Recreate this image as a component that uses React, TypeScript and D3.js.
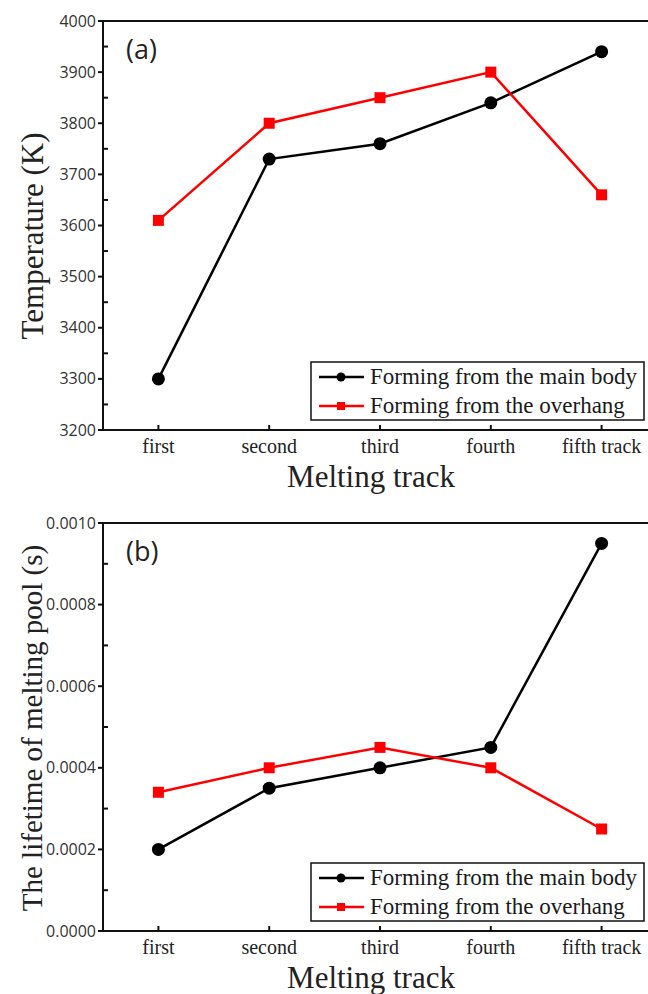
import * as d3 from 'd3';

const tracks = ['first', 'second', 'third', 'fourth', 'fifth track'];
const seriesNames = ['Forming from the main body', 'Forming from the overhang'];

const tempMainBody = [3300, 3730, 3760, 3840, 3940];
const tempOverhang = [3610, 3800, 3850, 3900, 3660];

const lifeMainBody = [0.0002, 0.00035, 0.0004, 0.00045, 0.00095];
const lifeOverhang = [0.00034, 0.0004, 0.00045, 0.0004, 0.00025];

const SERIF = '"Liberation Serif", "DejaVu Serif", serif';
const SANS = '"Open Sans", "Noto Sans", sans-serif';
const RED = '#ff0000';
const INK = '#111';

interface PanelProps {
  label: string;
  yTitle: string;
  yTitleSize: number;
  yTitleX: number;
  yTitleY: number;
  domain: [number, number];
  majorCount: number;
  minorCount: number;
  fmt: (v: number) => string;
  main: number[];
  over: number[];
  top: number;
  bottom: number;
  legendTop: number;
}

function Panel({ label, yTitle, yTitleSize, yTitleX, yTitleY, domain, majorCount, minorCount, fmt, main, over, top, bottom, legendTop }: PanelProps) {
  const left = 103;
  const right = 657;
  const x = d3.scalePoint<string>().domain(tracks).range([left, right]).padding(0.5);
  const y = d3.scaleLinear().domain(domain).range([bottom, top]);
  const major = y.ticks(majorCount);
  const minor = y.ticks(minorCount).filter((t) => !major.some((m) => Math.abs(m - t) < 1e-12));
  const line = d3
    .line<number>()
    .x((_, i) => x(tracks[i]) ?? 0)
    .y((d) => y(d));

  return (
    <g>
      {/* frame */}
      <line x1={left} x2={right} y1={top} y2={top} stroke={INK} strokeWidth={2} />
      <line x1={left} x2={left} y1={top - 1} y2={bottom + 1} stroke={INK} strokeWidth={2} />
      <line x1={left - 1} x2={right} y1={bottom} y2={bottom} stroke={INK} strokeWidth={2} />

      {/* y ticks: major outward, minor inward */}
      {major.map((t) => (
        <g key={`M${t}`}>
          <line x1={left - 5} x2={left} y1={y(t)} y2={y(t)} stroke={INK} strokeWidth={2} />
          <text x={left - 7} y={y(t)} dy="0.35em" textAnchor="end" fontFamily={SANS} fontSize={16} fill="#333">
            {fmt(t)}
          </text>
        </g>
      ))}
      {minor.map((t) => (
        <line key={`m${t}`} x1={left} x2={left + 5} y1={y(t)} y2={y(t)} stroke={INK} strokeWidth={2} />
      ))}

      {/* x ticks */}
      {tracks.map((c) => (
        <g key={c}>
          <line x1={x(c)} x2={x(c)} y1={bottom} y2={bottom - 5} stroke={INK} strokeWidth={2} />
          <text x={x(c)} y={bottom + 23} textAnchor="middle" fontFamily={SERIF} fontSize={20} fill="#222">
            {c}
          </text>
        </g>
      ))}

      {/* titles */}
      <text
        transform={`translate(${yTitleX},${yTitleY}) rotate(-90)`}
        textAnchor="middle"
        fontFamily={SERIF}
        fontSize={yTitleSize}
        fill="#222"
      >
        {yTitle}
      </text>
      <text x={371} y={bottom + 57} textAnchor="middle" fontFamily={SERIF} fontSize={31} fill="#222">
        Melting track
      </text>
      <text x={126} y={top + 38} fontFamily={SANS} fontSize={27} fill="#222">
        {label}
      </text>

      {/* series */}
      <path d={line(main) ?? undefined} fill="none" stroke="#000" strokeWidth={2.5} />
      <path d={line(over) ?? undefined} fill="none" stroke={RED} strokeWidth={2.5} />
      {main.map((v, i) => (
        <circle key={`c${i}`} cx={x(tracks[i])} cy={y(v)} r={6.5} fill="#000" />
      ))}
      {over.map((v, i) => (
        <rect key={`s${i}`} x={(x(tracks[i]) ?? 0) - 5.5} y={y(v) - 5.5} width={11} height={11} fill={RED} />
      ))}

      {/* legend */}
      <rect x={311} y={legendTop} width={333} height={58} fill="#fff" stroke={INK} strokeWidth={1.5} />
      {seriesNames.map((name, i) => {
        const cy = legendTop + 15 + i * 29;
        const color = i === 0 ? '#000' : RED;
        return (
          <g key={name}>
            <line x1={319} x2={364} y1={cy} y2={cy} stroke={color} strokeWidth={2.5} />
            {i === 0 ? (
              <circle cx={341} cy={cy} r={4.5} fill={color} />
            ) : (
              <rect x={337} y={cy - 4} width={8} height={8} fill={color} />
            )}
            <text x={370} y={cy + 7} fontFamily={SERIF} fontSize={23} fill="#1a1a1a">
              {name}
            </text>
          </g>
        );
      })}
    </g>
  );
}

export default function App() {
  return (
    <svg
      width={648}
      height={994}
      viewBox="0 0 648 994"
      style={{ position: 'absolute', left: 0, top: 0, background: '#fff' }}
    >
      <rect width={648} height={994} fill="#fff" />
      <Panel
        label="(a)"
        yTitle="Temperature (K)"
        yTitleSize={31}
        yTitleX={43}
        yTitleY={236}
        domain={[3200, 4000]}
        majorCount={8}
        minorCount={16}
        fmt={d3.format('d')}
        main={tempMainBody}
        over={tempOverhang}
        top={21}
        bottom={430}
        legendTop={362}
      />
      <Panel
        label="(b)"
        yTitle="The lifetime of melting pool (s)"
        yTitleSize={29}
        yTitleX={42}
        yTitleY={728}
        domain={[0, 0.001]}
        majorCount={5}
        minorCount={10}
        fmt={d3.format('.4f')}
        main={lifeMainBody}
        over={lifeOverhang}
        top={523}
        bottom={931}
        legendTop={863}
      />
    </svg>
  );
}
